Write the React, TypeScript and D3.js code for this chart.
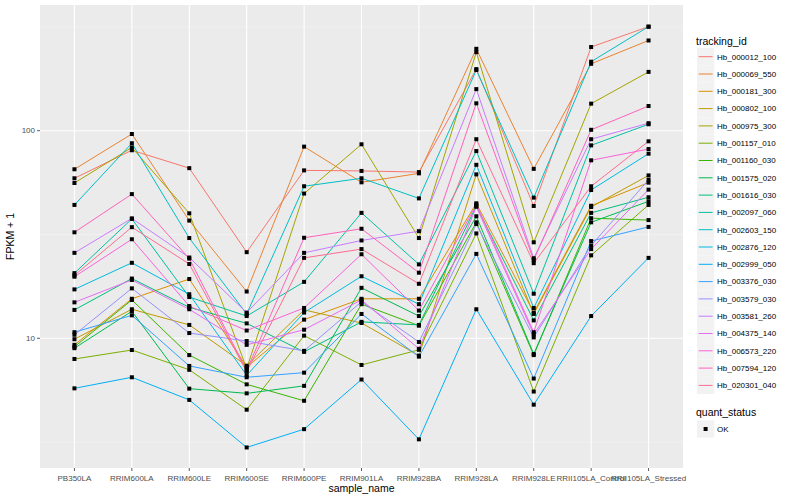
import React from "react";
import * as d3 from "d3";

const samples = ["PB350LA","RRIM600LA","RRIM600LE","RRIM600SE","RRIM600PE","RRIM901LA","RRIM928BA","RRIM928LA","RRIM928LE","RRII105LA_Control","RRII105LA_Stressed"];

const trackingIds = ["Hb_000012_100","Hb_000069_550","Hb_000181_300","Hb_000802_100","Hb_000975_300","Hb_001157_010","Hb_001160_030","Hb_001575_020","Hb_001616_030","Hb_002097_060","Hb_002603_150","Hb_002876_120","Hb_002999_050","Hb_003376_030","Hb_003579_030","Hb_003581_260","Hb_004375_140","Hb_006573_220","Hb_007594_120","Hb_020301_040"];

const colors = ["#F8766D","#EA8331","#D89000","#C09B00","#A3A500","#7CAE00","#39B600","#00BB4E","#00BF7D","#00C1A3","#00BFC4","#00BAE0","#00B0F6","#35A2FF","#9590FF","#C77CFF","#E76BF3","#FA62DB","#FF62BC","#FF6C91"];

// FPKM + 1 per series, in sample order
const s000012 = [59, 80.5, 66, 26, 64.4, 64, 63.2, 198, 43.4, 253, 317];
const s000069 = [65.2, 96.4, 36.9, 16.8, 83.8, 56.4, 62.3, 248, 65.5, 210, 272];
const s000181 = [9.3, 15.5, 19.3, 7.27, 12.3, 15.5, 15.5, 44.7, 13.3, 43.5, 56.2];
const s000802 = [9.9, 13.8, 11.6, 7.38, 13.7, 11.85, 8.25, 61.6, 13.1, 42.9, 60.9];
const s000975 = [56, 83, 40, 7.14, 49.8, 86, 30.4, 239, 29, 135, 192];
const s001157 = [7.95, 8.78, 7.05, 4.53, 10.3, 7.44, 8.8, 32, 5.54, 25.1, 43.9];
const s001160 = [9.1, 15.3, 8.3, 6.0, 5.0, 14.6, 11.5, 36.2, 8.3, 37.9, 37.1];
const s001575 = [8.96, 13.5, 5.72, 5.43, 5.9, 17.5, 12.8, 38.7, 8.4, 36.2, 45.7];
const s001616 = [13.7, 19.4, 14.1, 11.8, 8.6, 12.0, 11.6, 43.4, 12.2, 40.2, 47.8];
const s002097 = [20.6, 37.6, 15.8, 12.8, 18.7, 40.2, 22.7, 79.8, 16.4, 85, 107.4];
const s002603 = [43.9, 87, 30.4, 13.1, 54, 59, 47.2, 196, 47.6, 215, 317];
const s002876 = [17.2, 23.1, 16.3, 6.63, 13.3, 19.9, 14.6, 68.5, 14.0, 51.8, 77.5];
const s002999 = [5.74, 6.49, 5.05, 2.98, 3.65, 6.33, 3.26, 13.8, 4.79, 12.8, 24.4];
const s003376 = [10.7, 12.9, 7.36, 6.49, 6.83, 13.1, 8.16, 25.5, 6.4, 29.4, 34.4];
const s003579 = [10.4, 17.4, 10.6, 9.7, 8.7, 15.0, 9.6, 35.5, 10.1, 28, 58];
const s003581 = [25.8, 37.8, 24.5, 13.3, 25.8, 29.6, 32.8, 158.6, 24.3, 91, 108.7];
const s004375 = [14.9, 19.1, 13.8, 9.3, 11.0, 15.3, 8.9, 43, 10.45, 26.9, 52];
const s006573 = [19.8, 30, 14.3, 10.9, 14.0, 25.4, 13.6, 44.1, 10.7, 72, 81.6];
const s007594 = [32.4, 49.5, 24.2, 7.0, 30.5, 33.7, 20.7, 135.5, 23.8, 101, 131.5];
const s020301 = [20.1, 34.3, 22.8, 6.9, 24.4, 26.9, 18.3, 91, 23.0, 54, 88.9];

const seriesValues = [s000012, s000069, s000181, s000802, s000975, s001157, s001160, s001575, s001616, s002097, s002603, s002876, s002999, s003376, s003579, s003581, s004375, s006573, s007594, s020301];

const yMajor = [10, 100];
const yMinor = [Math.sqrt(10), Math.sqrt(1000), Math.sqrt(100000)];

const W = 800, H = 500;
const PL = 40, PR = 683, PT = 5, PB = 468;
const FONT = "'Liberation Sans', Arial, Helvetica, sans-serif";

export default function App() {
  const x = d3.scalePoint<string>().domain(samples).range([PL, PR]).padding(0.6);
  const y = d3.scaleLog().domain([Math.pow(10, 0.3752), Math.pow(10, 2.6055)]).range([PB, PT]);
  const line = d3.line<[string, number]>().x(d => x(d[0])!).y(d => y(d[1]));

  const legendTop = 56.7;
  const legendStep = 17.3;

  return (
    <svg width={W} height={H} style={{ position: "absolute", left: 0, top: 0, background: "#fff" }} fontFamily={FONT}>
      <rect x={PL} y={PT} width={PR - PL} height={PB - PT} fill="#EBEBEB" />
      {yMinor.map((v, i) => (
        <line key={"mi" + i} x1={PL} x2={PR} y1={y(v)} y2={y(v)} stroke="#F5F5F5" strokeWidth={0.6} />
      ))}
      {yMajor.map((v, i) => (
        <line key={"ma" + i} x1={PL} x2={PR} y1={y(v)} y2={y(v)} stroke="#fff" strokeWidth={1.1} />
      ))}
      {samples.map(s => (
        <line key={"vx" + s} x1={x(s)} x2={x(s)} y1={PT} y2={PB} stroke="#fff" strokeWidth={1.1} />
      ))}
      {seriesValues.map((vals, i) => (
        <path key={"l" + i} d={line(samples.map((s, j) => [s, vals[j]] as [string, number]))!} fill="none" stroke={colors[i]} strokeWidth={1} />
      ))}
      {seriesValues.map((vals, i) =>
        samples.map((s, j) => (
          <rect key={"p" + i + "-" + j} x={x(s)! - 2} y={y(vals[j]) - 2} width={4} height={4} fill="#000" />
        ))
      )}
      {/* y axis */}
      {yMajor.map((v, i) => (
        <g key={"yt" + i}>
          <line x1={PL - 3} x2={PL} y1={y(v)} y2={y(v)} stroke="#333" strokeWidth={0.8} />
          <text x={PL - 5} y={y(v)} dy="0.35em" textAnchor="end" fontSize={8} fill="#4D4D4D">{v}</text>
        </g>
      ))}
      <text transform={`translate(14,${(PT + PB) / 2}) rotate(-90)`} textAnchor="middle" fontSize={10.5} fill="#000">FPKM + 1</text>
      {/* x axis */}
      {samples.map(s => (
        <g key={"xt" + s}>
          <line x1={x(s)} x2={x(s)} y1={PB} y2={PB + 3} stroke="#333" strokeWidth={0.8} />
          <text x={x(s)} y={PB + 10} dy="0.35em" textAnchor="middle" fontSize={8} fill="#4D4D4D">{s}</text>
        </g>
      ))}
      <text x={(PL + PR) / 2} y={492} textAnchor="middle" fontSize={10.5} fill="#000">sample_name</text>
      {/* legend */}
      <text x={696} y={41} dy="0.35em" fontSize={10.5} fill="#000">tracking_id</text>
      {trackingIds.map((id, i) => {
        const cy = legendTop + i * legendStep;
        return (
          <g key={"lg" + id}>
            <rect x={697} y={cy - 8.6} width={17.3} height={17.3} fill="#F2F2F2" />
            <line x1={698.7} x2={712.6} y1={cy} y2={cy} stroke={colors[i]} strokeWidth={1} />
            <text x={717} y={cy} dy="0.35em" fontSize={8} fill="#000">{id}</text>
          </g>
        );
      })}
      <text x={696} y={412} dy="0.35em" fontSize={10.5} fill="#000">quant_status</text>
      <rect x={697} y={429 - 8.6} width={17.3} height={17.3} fill="#F2F2F2" />
      <rect x={703.6} y={427} width={4} height={4} fill="#000" />
      <text x={717} y={429} dy="0.35em" fontSize={8} fill="#000">OK</text>
    </svg>
  );
}
